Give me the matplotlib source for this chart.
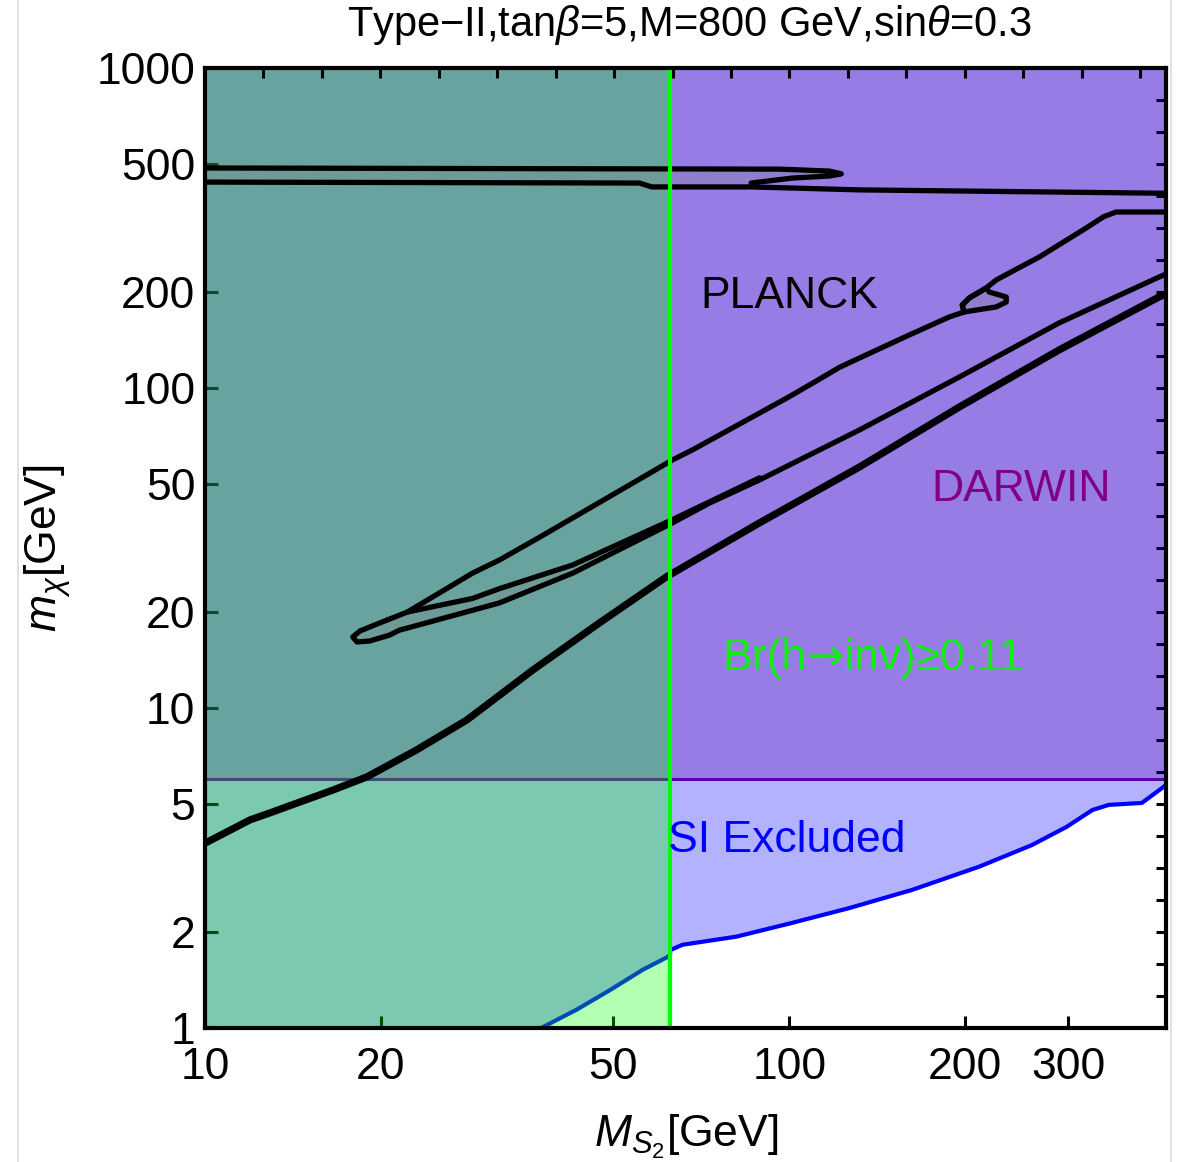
import numpy as np
import matplotlib
matplotlib.use("Agg")
import matplotlib.pyplot as plt
from matplotlib.lines import Line2D

plt.rcParams['font.family'] = ['Liberation Sans', 'DejaVu Sans']
plt.rcParams['mathtext.fontset'] = 'custom'
plt.rcParams['mathtext.rm'] = 'Liberation Sans'
plt.rcParams['mathtext.it'] = 'Liberation Sans:italic'

# axis ranges (GeV)
x_min, x_max = 10, 441
y_min, y_max = 1, 1000
m_half_higgs = 62.5      # Br(h->inv) bound applies below m_h/2
darwin_limit = 6.0       # DARWIN reach in m_chi

# SI direct detection exclusion boundary
si_mass = [37.6, 43.2, 49.2, 56.1, 61.6, 62.5, 62.5, 65.6, 81.2, 101, 126.6,
           162, 211, 260, 298, 330, 352, 401, 434, 441]
si_mchi = [1.0, 1.14, 1.31, 1.52, 1.66, 1.69, 1.75, 1.82, 1.93, 2.13, 2.37,
           2.70, 3.19, 3.73, 4.25, 4.80, 4.98, 5.05, 5.62, 5.75]

# relic density contours (Planck)
band_top_x = [10, 96.1, 117, 122.7, 117, 101.2, 86]
band_top_y = [487, 483, 476.4, 467, 459.6, 453, 437]
band_bot_x = [10, 55.4, 58.1, 86, 131.7, 441]
band_bot_y = [440, 437, 425, 425, 416, 406]

upper_x = [22.2, 28.7, 31.9, 37.4, 63.1, 68.2, 88.9, 100, 112, 121.8, 131.7, 160.3,
           187.7, 199, 197.6, 203.1, 217.2, 225.9, 267.6, 320, 345, 362.2, 441]
upper_y = [19.95, 26.4, 29.0, 34.2, 59.6, 64.0, 83.5, 94, 106, 116, 124, 146.4,
           166.7, 172.8, 181.7, 191.1, 205.4, 217.6, 256.6, 314, 343, 354.8, 354.8]

pocket_x = [199, 208.8, 225.9, 235, 235, 219.8, 217.2, 203.1, 197.6]
pocket_y = [172.8, 175.2, 179.2, 185.6, 192.5, 199.5, 205.4, 191.1, 181.7]

lower_x = [22.2, 19.9, 18.41, 17.9, 18.2, 19.15, 20.7, 21.5, 28.7, 31.9, 42.6,
           63.1, 73.0, 88.9, 131.7, 195.3, 289.4, 429, 441]
lower_y = [19.95, 18.44, 17.4, 16.67, 16.08, 16.2, 16.9, 17.5, 20.2, 21.3, 26.4,
           37.9, 43.7, 51.6, 73.9, 108.2, 159.7, 222.2, 227]

inner_x = [22.2, 28.7, 31.9, 42.6, 63.1, 88.9]
inner_y = [19.95, 22.0, 23.6, 28.0, 38.8, 52.4]

thick_x = [10, 11.94, 12.91, 16.55, 18.92, 23.0, 28.05, 36.4, 47.3, 61.6, 88.9,
           131.7, 195.3, 289.4, 429, 441]
thick_y = [3.78, 4.47, 4.70, 5.54, 6.09, 7.39, 9.17, 13.15, 18.44, 25.7, 37.9,
           56.6, 87.2, 131.5, 192.5, 196.7]

W, H = 1178, 1162
fig = plt.figure(figsize=(W / 100, H / 100), dpi=100)
box = [205 / W, 1 - 1028 / H, 961 / W, 960 / H]
ax = fig.add_axes(box)
ax.set_xscale('log')
ax.set_yscale('log')
ax.set_xlim(x_min, x_max)
ax.set_ylim(y_min, y_max)

# SI excluded: everything above the blue boundary
fx = np.concatenate([[x_min], si_mass])
fy = np.concatenate([[y_min], si_mchi])
ax.fill_between(fx, fy, y_max, color=(0, 0, 1), alpha=0.3, lw=0, zorder=1)

# DARWIN projection
ax.axhspan(darwin_limit, y_max, color=(90 / 255, 0, 170 / 255), alpha=0.3, lw=0, zorder=2)
ax.axhline(darwin_limit, color=(90 / 255, 0, 170 / 255), lw=2.2, zorder=3)

ax.plot(si_mass, si_mchi, color='blue', lw=3, zorder=3, solid_capstyle='butt')

# invisible Higgs decay bound
ax.axvspan(x_min, m_half_higgs, color=(0, 1, 0), alpha=0.3, lw=0, zorder=4)

# Planck contours with the enclosed pockets shaded
gray = (0.5, 0.5, 0.5, 0.25)
ax.fill(band_top_x + band_bot_x[2::-1], band_top_y + band_bot_y[2::-1],
        color=gray, lw=0, zorder=5)
ax.fill(lower_x[:14] + inner_x[::-1], lower_y[:14] + inner_y[::-1],
        color=gray, lw=0, zorder=5)
ax.fill(pocket_x, pocket_y, color=gray, lw=0, zorder=5)

kw = dict(color='black', lw=3.8, zorder=6, solid_joinstyle='round', solid_capstyle='round')
ax.plot(band_top_x, band_top_y, **kw)
ax.plot(band_bot_x, band_bot_y, **kw)
ax.plot(upper_x, upper_y, **kw)
ax.plot(pocket_x + pocket_x[:1], pocket_y + pocket_y[:1], **kw)
ax.plot(lower_x, lower_y, **kw)
ax.plot(inner_x, inner_y, **kw)
ax.plot(thick_x, thick_y, color='black', lw=5.2, zorder=6, solid_joinstyle='round')

ax.axvline(m_half_higgs, color=(0, 1, 0), lw=3, zorder=7)

# labels inside the plot
fs = 32
ax.text(0.6077, 0.75, 'PLANCK', transform=ax.transAxes, ha='center', va='baseline',
        fontsize=fs, color='black', zorder=8)
ax.text(0.849, 0.549, 'DARWIN', transform=ax.transAxes, ha='center', va='baseline',
        fontsize=fs, color='#800080', zorder=8)
ax.text(0.6056, 0.1833, 'SI Excluded', transform=ax.transAxes, ha='center',
        va='baseline', fontsize=fs, color='#0000ff', zorder=8)

# Br label: the arrow comes from DejaVu, the rest from Liberation
br_parts = [('Br(h', 'Liberation Sans'), ('→', 'DejaVu Sans'), ('inv)≥0.11', 'Liberation Sans')]
renderer = fig.canvas.get_renderer()
widths = []
for s, fam in br_parts:
    t = fig.text(0, 0, s, fontsize=fs, family=fam)
    widths.append(t.get_window_extent(renderer).width)
    t.remove()
offset = -sum(widths) / 2
for (s, fam), w in zip(br_parts, widths):
    ax.annotate(s, xy=(0.695, 0.373), xycoords='axes fraction', xytext=(offset, 0),
                textcoords='offset pixels', ha='left', va='baseline', fontsize=fs,
                family=fam, color='#11ee11', zorder=8)
    offset += w

# frame and ticks
for s in ax.spines.values():
    s.set_linewidth(3)
    s.set_zorder(9)
xt = [10, 20, 50, 100, 200, 300]
yt = [1, 2, 5, 10, 20, 50, 100, 200, 500, 1000]
ax.set_xticks(xt)
ax.set_xticklabels([str(v) for v in xt])
ax.set_yticks(yt)
ax.set_yticklabels([str(v) for v in yt])
ax.minorticks_off()
ax.tick_params(which='major', direction='in', length=9, width=2.2, labelsize=fs,
               top=False, right=False)
ax.tick_params(axis='x', pad=14)
ax.tick_params(axis='y', pad=7)

# unlabeled ticks on top and right, evenly spaced in log10
ax2 = fig.add_axes(box, frameon=False)
ax2.set_xlim(np.log10(x_min), np.log10(x_max))
ax2.set_ylim(np.log10(y_min), np.log10(y_max))
ax2.set_xticks(np.arange(1.1, 2.65, 0.1))
ax2.set_yticks(np.arange(0.1, 2.95, 0.1))
ax2.xaxis.tick_top()
ax2.yaxis.tick_right()
ax2.tick_params(direction='in', length=7, width=2.2, labeltop=False, labelright=False,
                labelbottom=False, labelleft=False)
ax2.patch.set_visible(False)

fig.text(689 / W, 1 - 36 / H, r'Type−II,tan$\beta$=5,M=800 GeV,sin$\theta$=0.3',
         ha='center', va='baseline', fontsize=30)
fig.text(686 / W, 1 - 1147 / H, r'$M_{S_2}$[GeV]', ha='center', va='baseline', fontsize=fs)
fig.text(48 / W, 1 - 548 / H, r'$m_\chi$[GeV]', ha='center', va='center',
         rotation=90, fontsize=fs)

# light page border lines
for xp in (18, 1171):
    fig.add_artist(Line2D([xp / W, xp / W], [0, 1], color='#dddddd', lw=1.2))

fig.savefig('out.png', dpi=100)
